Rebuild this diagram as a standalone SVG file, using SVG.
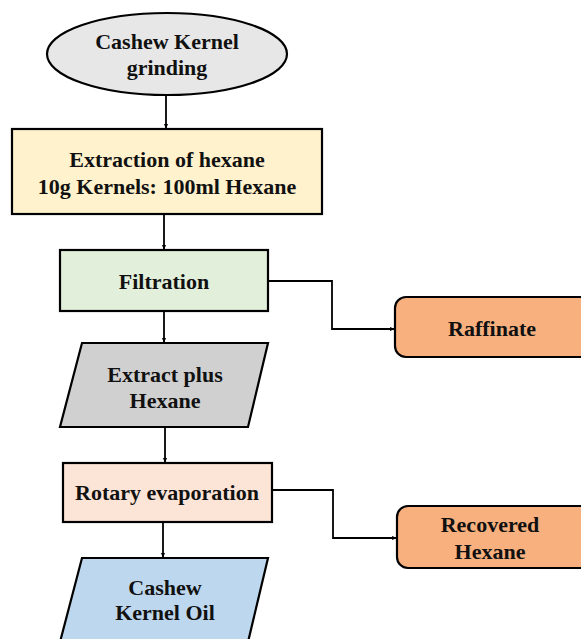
<svg xmlns="http://www.w3.org/2000/svg" width="581" height="639" viewBox="0 0 581 639">
<defs>
<marker id="ah" viewBox="0 0 10 10" refX="10" refY="5" markerWidth="5" markerHeight="5" orient="auto" markerUnits="userSpaceOnUse">
<path d="M0,1 L10,5 L0,9 Z" fill="#000"/>
</marker>
<style>
.n{stroke:#000;stroke-width:2.2}
.t{font-family:"Liberation Serif","Times New Roman",serif;font-weight:bold;font-size:22px;fill:#111;text-anchor:middle}
.c{fill:none;stroke:#000;stroke-width:1.8;marker-end:url(#ah)}
</style>
</defs>
<rect width="581" height="639" fill="#fff"/>
<g id="connectors">
<path class="c" d="M166,95 V129"/>
<path class="c" d="M164,214 V250"/>
<path class="c" d="M164,311 V343"/>
<path class="c" d="M165,427 V463"/>
<path class="c" d="M163,522 V558"/>
<path class="c" d="M268,281 H332 V329 H395"/>
<path class="c" d="M272,490 H333 V538 H397"/>
</g>
<g id="grinding">
<ellipse class="n" cx="167" cy="54" rx="120" ry="41" fill="#e7e7e7"/>
<text class="t" x="167" y="49">Cashew Kernel</text>
<text class="t" x="167" y="75">grinding</text>
</g>
<g id="extraction">
<rect class="n" x="12" y="129" width="310" height="85" fill="#fff2cc"/>
<text class="t" x="167" y="167">Extraction of hexane</text>
<text class="t" x="167" y="194">10g Kernels: 100ml Hexane</text>
</g>
<g id="filtration">
<rect class="n" x="60" y="250" width="208" height="61" fill="#e2efda"/>
<text class="t" x="164" y="289">Filtration</text>
</g>
<g id="raffinate">
<rect class="n" x="395" y="297" width="200" height="60" rx="11" fill="#f8b07e"/>
<text class="t" x="492" y="336">Raffinate</text>
</g>
<g id="extract">
<polygon class="n" points="82,343 268,343 248,427 60,427" fill="#d0d0d0"/>
<text class="t" x="165" y="382">Extract plus</text>
<text class="t" x="165" y="408">Hexane</text>
</g>
<g id="rotary">
<rect class="n" x="63" y="463" width="209" height="59" fill="#fce4d6"/>
<text class="t" x="167" y="500">Rotary evaporation</text>
</g>
<g id="recovered">
<rect class="n" x="397" y="506" width="200" height="62" rx="11" fill="#f8b07e"/>
<text class="t" x="490" y="532">Recovered</text>
<text class="t" x="490" y="559">Hexane</text>
</g>
<g id="oil">
<polygon class="n" points="82,558 268,558 248,642 60,642" fill="#bdd7ee"/>
<text class="t" x="165" y="595">Cashew</text>
<text class="t" x="165" y="620">Kernel Oil</text>
</g>
</svg>
